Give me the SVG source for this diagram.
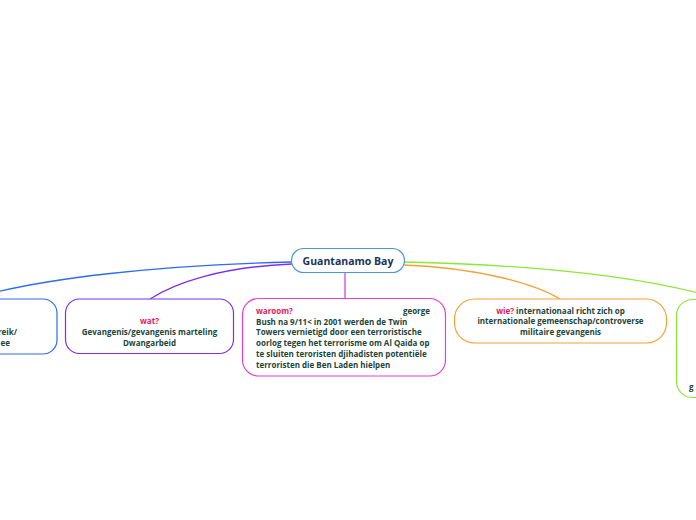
<svg xmlns="http://www.w3.org/2000/svg" width="696" height="520" viewBox="0 0 696 520">
<style>
.t{font-family:"Open Sans","Noto Sans","DejaVu Sans",sans-serif;font-weight:bold;font-size:8px;fill:#1c4538}
.k{fill:#e5195a}
.c{font-family:"Open Sans","Noto Sans","DejaVu Sans",sans-serif;font-weight:bold;font-size:10.5px;fill:#1b3358}
.box{fill:#ffffff;stroke-width:1.2}
.ln{fill:none;stroke-width:1.3}
</style>
<rect width="696" height="520" fill="#ffffff"/>
<g id="connectors">
<path class="ln" stroke="#2f6bef" d="M292,262 C160,265 40,278 -30,299"/>
<path class="ln" stroke="#7d2fef" d="M292,264 C220,267 175,283 150,299"/>
<path class="ln" stroke="#e23ee0" d="M345,272 L345,298"/>
<path class="ln" stroke="#f5a033" d="M404,265 C480,268 535,284 560,299"/>
<path class="ln" stroke="#8ee63a" d="M404,262 C540,265 650,278 720,299"/>
</g>
<g id="center">
<rect class="box" x="291.5" y="248.5" width="113" height="24" rx="12" stroke="#4a98d8"/>
<text class="c" x="348" y="264.5" text-anchor="middle">Guantanamo Bay</text>
</g>
<g id="node-left">
<rect class="box" x="-120" y="299" width="177" height="55" rx="14" stroke="#2f6bef"/>
<text class="t" x="17" y="334.5" text-anchor="end">reik/</text>
<text class="t" x="10" y="345.5" text-anchor="end">ee</text>
</g>
<g id="node-wat">
<rect class="box" x="65.5" y="299" width="168" height="54.5" rx="14" stroke="#7d2fef"/>
<text class="t k" x="149.5" y="324" text-anchor="middle">wat?</text>
<text class="t" x="149.5" y="334.5" text-anchor="middle">Gevangenis/gevangenis marteling</text>
<text class="t" x="149.5" y="345.5" text-anchor="middle">Dwangarbeid</text>
</g>
<g id="node-waroom">
<rect class="box" x="242.5" y="298.5" width="203" height="77.5" rx="16" stroke="#e23ee0"/>
<text class="t k" x="256" y="313.5">waroom?</text>
<text class="t" x="430" y="313.5" text-anchor="end">george</text>
<text class="t" x="256" y="324.5">Bush na 9/11&lt; in 2001 werden de Twin</text>
<text class="t" x="256" y="335">Towers vernietigd door een terroristische</text>
<text class="t" x="256" y="345.5">oorlog tegen het terrorisme om Al Qaida op</text>
<text class="t" x="256" y="356.5">te sluiten teroristen djihadisten potentiële</text>
<text class="t" x="256" y="367.5">terroristen die Ben Laden hielpen</text>
</g>
<g id="node-wie">
<rect class="box" x="454.5" y="299" width="212" height="44" rx="20" stroke="#f5a033"/>
<text class="t" x="560.5" y="313.5" text-anchor="middle"><tspan class="k">wie?</tspan> internationaal richt zich op</text>
<text class="t" x="560.5" y="324" text-anchor="middle">internationale gemeenschap/controverse</text>
<text class="t" x="560.5" y="334.5" text-anchor="middle">militaire gevangenis</text>
</g>
<g id="node-right">
<rect class="box" x="676.5" y="299.5" width="120" height="98" rx="16" stroke="#8ee63a"/>
<text class="t" x="689" y="389.5">g</text>
</g>
</svg>
